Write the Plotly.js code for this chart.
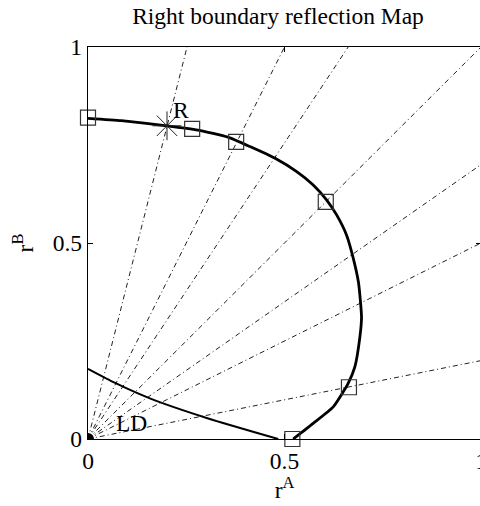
<!DOCTYPE html>
<html>
<head>
<meta charset="utf-8">
<script src="https://cdn.plot.ly/plotly-3.0.1.min.js"></script>
<style>
  html, body { margin: 0; padding: 0; overflow: hidden; background: #fff; }
</style>
</head>
<body>
<div id="chart"></div>
<script>
// Reflection boundary curve (r^A, r^B)
const curveX = [0, 0.085, 0.201, 0.280, 0.356, 0.412, 0.476, 0.531, 0.573, 0.607, 0.633, 0.658, 0.675, 0.688, 0.694, 0.696, 0.692, 0.679, 0.662, 0.624, 0.573, 0.522];
const curveY = [0.818, 0.812, 0.799, 0.788, 0.770, 0.746, 0.716, 0.682, 0.648, 0.610, 0.571, 0.520, 0.461, 0.401, 0.342, 0.310, 0.262, 0.184, 0.142, 0.082, 0.040, 0];

// Lower boundary line
const lowerX = [0, 0.069, 0.159, 0.304, 0.484];
const lowerY = [0.179, 0.143, 0.103, 0.053, 0];

// Sampled points on the boundary
const sampleX = [0, 0.265, 0.377, 0.605, 0.664, 0.520];
const sampleY = [0.820, 0.791, 0.758, 0.605, 0.132, 0];

// Reflection point R
const pointRX = [0.201];
const pointRY = [0.799];

// Rays from the origin: end points on the frame
const rayEndX = [0.252, 0.5, 0.662, 1, 1, 1, 1];
const rayEndY = [1, 1, 1, 1, 0.7, 0.5, 0.2];

// Axis ticks
const tickVals = [0, 0.5, 1];
const tickText = ['0', '0.5', '1'];

const rayX = [], rayY = [];
for (let i = 0; i < rayEndX.length; i++) {
  rayX.push(0, rayEndX[i], null);
  rayY.push(0, rayEndY[i], null);
}

const serif = 'Liberation Serif, Times New Roman, serif';
const fontSize = 23.5;

const traces = [
  {
    x: rayX, y: rayY, mode: 'lines', type: 'scatter',
    line: { color: '#222', width: 1, dash: '5px,3px,1px,3px' },
    hoverinfo: 'skip'
  },
  {
    x: lowerX, y: lowerY, mode: 'lines', type: 'scatter',
    line: { color: '#000', width: 2, shape: 'spline', smoothing: 0.6 }
  },
  {
    x: curveX, y: curveY, mode: 'lines', type: 'scatter',
    line: { color: '#000', width: 2.8, shape: 'spline', smoothing: 0.5 }
  },
  {
    x: sampleX, y: sampleY, mode: 'markers', type: 'scatter', cliponaxis: false,
    marker: { symbol: 'square-open', size: 15, color: '#333', line: { width: 1.2, color: '#333' } }
  },
  {
    x: pointRX, y: pointRY, mode: 'markers', type: 'scatter', cliponaxis: false,
    marker: { symbol: 'asterisk-open', size: 24, color: '#222', line: { width: 1, color: '#222' } }
  },
  {
    x: [0], y: [0], mode: 'markers', type: 'scatter', cliponaxis: true,
    marker: { symbol: 'circle', size: 12, color: '#000' }
  }
];

const axisBase = {
  range: [0, 1],
  tickvals: tickVals,
  ticktext: tickText,
  ticks: 'inside',
  ticklen: 5,
  tickwidth: 1,
  tickcolor: '#000',
  ticklabeloverflow: 'allow',
  showline: true,
  linecolor: '#000',
  linewidth: 1.3,
  mirror: 'ticks',
  showgrid: false,
  zeroline: false,
  fixedrange: true,
  tickfont: { family: serif, size: fontSize, color: '#000' }
};

const layout = {
  width: 481,
  height: 506,
  margin: { l: 88, r: 0, t: 47, b: 67 },
  paper_bgcolor: '#fff',
  plot_bgcolor: '#fff',
  showlegend: false,
  font: { family: serif, color: '#000' },
  title: {
    text: 'Right boundary reflection Map',
    font: { family: serif, size: fontSize, color: '#000' },
    x: 0.4835, xref: 'paper', xanchor: 'center',
    y: 0.968, yref: 'container', yanchor: 'middle'
  },
  xaxis: Object.assign({}, axisBase, {
    title: { text: 'r<sup>A</sup>', font: { family: serif, size: fontSize, color: '#000' }, standoff: 6 }
  }),
  yaxis: Object.assign({}, axisBase, {
    title: { text: 'r<sup>B</sup>', font: { family: serif, size: fontSize, color: '#000' }, standoff: 12 }
  }),
  annotations: [
    { x: 0.236, y: 0.840, xref: 'x', yref: 'y', text: 'R', showarrow: false,
      font: { family: serif, size: fontSize, color: '#000' } },
    { x: 0.111, y: 0.042, xref: 'x', yref: 'y', text: 'LD', showarrow: false,
      font: { family: serif, size: fontSize, color: '#000' } }
  ]
};

Plotly.newPlot('chart', traces, layout, { displayModeBar: false, staticPlot: true });
</script>
</body>
</html>
